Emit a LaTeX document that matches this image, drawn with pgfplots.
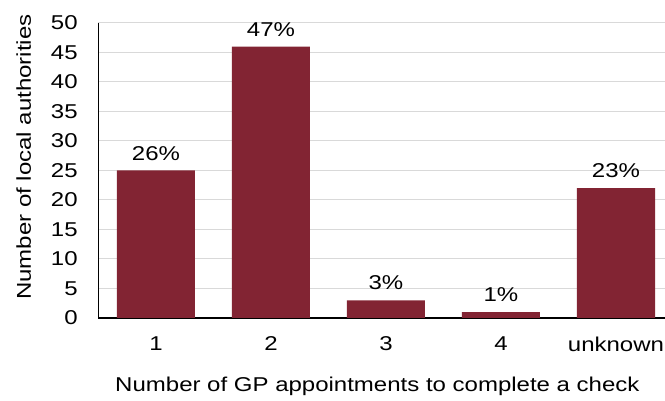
\documentclass[border=0pt]{standalone}
\usepackage{pgfplots}
\pgfplotsset{compat=1.18}
\usepackage{pgfplotstable}
\usepackage{fontspec}
\setmainfont{Liberation Sans}[FakeStretch=1.2]
\definecolor{barred}{HTML}{822433}
\definecolor{gridgray}{HTML}{D9D9D9}
\pgfplotstableread{
x val lab
0 25 26\%
1 46 47\%
2 3 3\%
3 1 1\%
4 22 23\%
}\datatable
\newcommand{\chartfont}{\fontsize{20pt}{24pt}\selectfont}
\begin{document}
\chartfont
\begin{tikzpicture}
\useasboundingbox (0,0) rectangle (665pt,401pt);
\begin{axis}[
  at={(98.5pt,83pt)}, anchor=south west,
  scale only axis, width=575pt, height=295pt,
  xmin=-0.5, xmax=4.5, ymin=0, ymax=50,
  ytick={0,5,...,50},
  xtick={0,1,2,3,4},
  xticklabels={1,2,3,4,unknown},
  /pgf/number format/assume math mode=true,
  axis x line*=bottom, axis y line*=left,
  axis line style={black, line width=1.3pt},
  major tick length=0pt,
  ymajorgrids, grid style={gridgray, line width=1pt},
  yticklabel style={anchor=east, xshift=-14pt, font=\chartfont},
  xticklabel style={anchor=north, yshift=-12pt, font=\chartfont},
  xlabel={Number of GP appointments to complete a check},
  ylabel={Number of local authorities},
  xlabel style={at={(axis description cs:0.485,-0.23)}, anchor=center, font=\chartfont},
  ylabel style={at={(axis description cs:-0.13,0.545)}, anchor=center, rotate=0, font=\chartfont},
  clip=false,
]
\addplot[ybar, bar width=78pt, fill=barred, draw=none,
  point meta=explicit symbolic,
  nodes near coords,
  every node near coord/.append style={anchor=south, inner sep=0pt, yshift=10pt, text=black, font=\chartfont}]
  table[x=x, y=val, meta=lab] {\datatable};
\end{axis}
\end{tikzpicture}
\end{document}
